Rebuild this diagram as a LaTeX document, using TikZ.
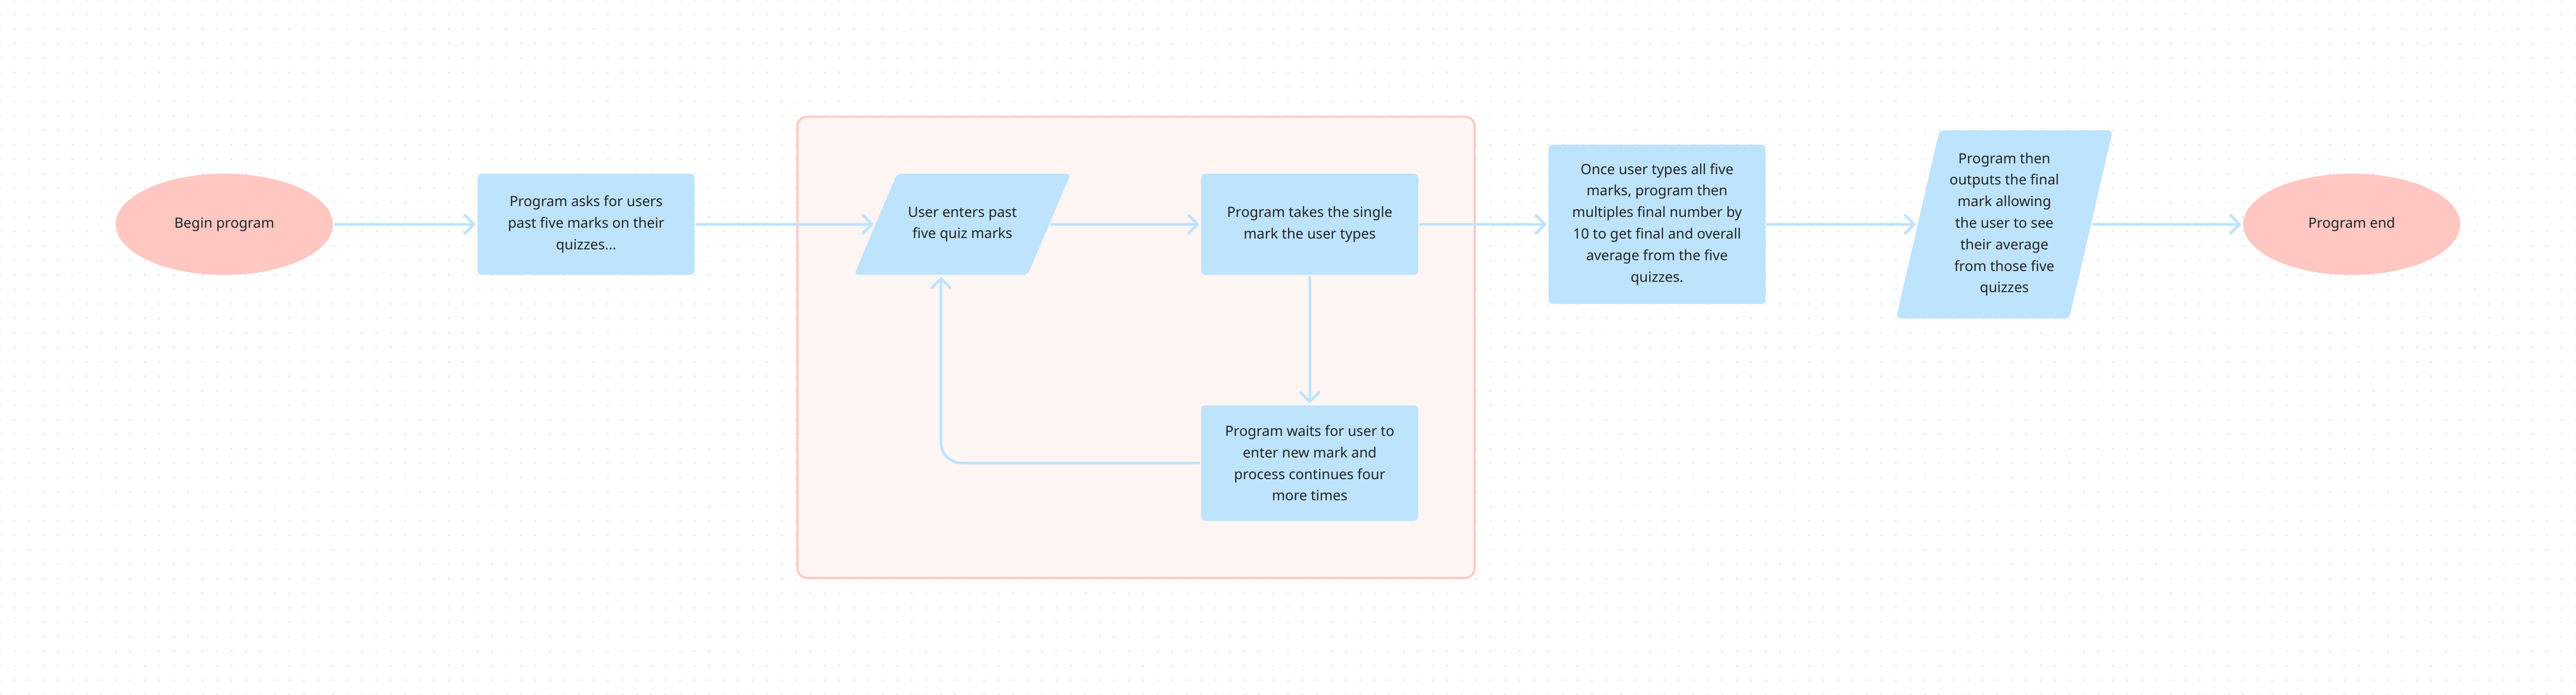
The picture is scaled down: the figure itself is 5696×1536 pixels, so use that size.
\documentclass[tikz,border=0pt]{standalone}
\usepackage{fontspec}
\setmainfont{Noto Sans}
\usetikzlibrary{shapes.geometric,arrows.meta,calc}
\definecolor{bluef}{RGB}{190,227,253}
\definecolor{pinkf}{RGB}{255,199,194}
\definecolor{grpfill}{RGB}{255,245,243}
\definecolor{grpline}{RGB}{255,199,194}
\definecolor{dotc}{RGB}{226,226,228}
\definecolor{txtc}{RGB}{34,36,40}
\newcommand{\lblfont}{\fontsize{7.8pt}{11.9pt}\selectfont}
\newcommand{\iotext}[2]{\parbox[c][#1][c]{70pt}{\centering\lblfont #2\par}}
\tikzset{
  base/.style={inner sep=0pt, outer sep=0pt, align=center, font=\lblfont, text=txtc},
  proc/.style={base, rectangle, rounded corners=2.5pt, fill=bluef, minimum width=120pt, minimum height=56pt},
  term/.style={base, ellipse, fill=pinkf, minimum width=120pt, minimum height=56pt},
  io/.style={base, trapezium, trapezium stretches body=true, rounded corners=2.5pt, fill=bluef, minimum width=119.75pt},
  grp/.style={rectangle, draw=grpline, fill=grpfill, line width=1.1pt, rounded corners=5.5pt, minimum width=374.5pt, minimum height=255pt, inner sep=0pt},
  conn/.style={draw=bluef, line width=1.5pt, line cap=round, line join=round, -{Straight Barb[length=5pt,width=10pt,round]}, shorten <=1.25pt, shorten >=1.25pt},
  dotrow/.style={draw=dotc, line width=1pt, line cap=round, dash pattern=on 0pt off 8pt}
}
\begin{document}
\begin{tikzpicture}[x=0.25pt,y=-0.25pt]
\useasboundingbox (0,0) rectangle (5696,1536);
\fill[white] (0,0) rectangle (5696,1536);
\foreach \j in {0,...,48}{ \draw[dotrow] (0,\j*32) -- (5700,\j*32); }

\node[grp] (grp) at (2512,768) {};

\node[term] (start) at (496,496) {Begin program};
\node[proc] (b1) at (1296,496) {Program asks for users\\past five marks on their\\quizzes...};
\node[io, trapezium left angle=67, trapezium right angle=113] (p1) at (2128,496) {\iotext{56pt}{User enters past\\five quiz marks}};
\node[proc] (b2) at (2896,496) {Program takes the single\\mark the user types};
\node[proc, minimum height=64pt] (b3) at (2896,1024) {Program waits for user to\\enter new mark and\\process continues four\\more times};
\node[proc, minimum height=88pt] (b4) at (3664,496) {Once user types all five\\marks, program then\\multiples final number by\\10 to get final and overall\\average from the five\\quizzes.};
\node[io, trapezium left angle=77, trapezium right angle=103] (p2) at (4432,496) {\iotext{104pt}{Program then\\outputs the final\\mark allowing\\the user to see\\their average\\from those five\\quizzes}};
\node[term] (end) at (5200,496) {Program end};

\draw[conn] (start) -- (b1);
\draw[conn] (b1) -- (p1);
\draw[conn] (p1) -- (b2);
\draw[conn] (b2) -- (b4);
\draw[conn] (b4) -- (p2);
\draw[conn] (p2) -- (end);
\draw[conn] (b2) -- (b3);
\draw[conn, rounded corners=11.5pt] (b3.west) -| (p1.bottom side);
\end{tikzpicture}
\end{document}
